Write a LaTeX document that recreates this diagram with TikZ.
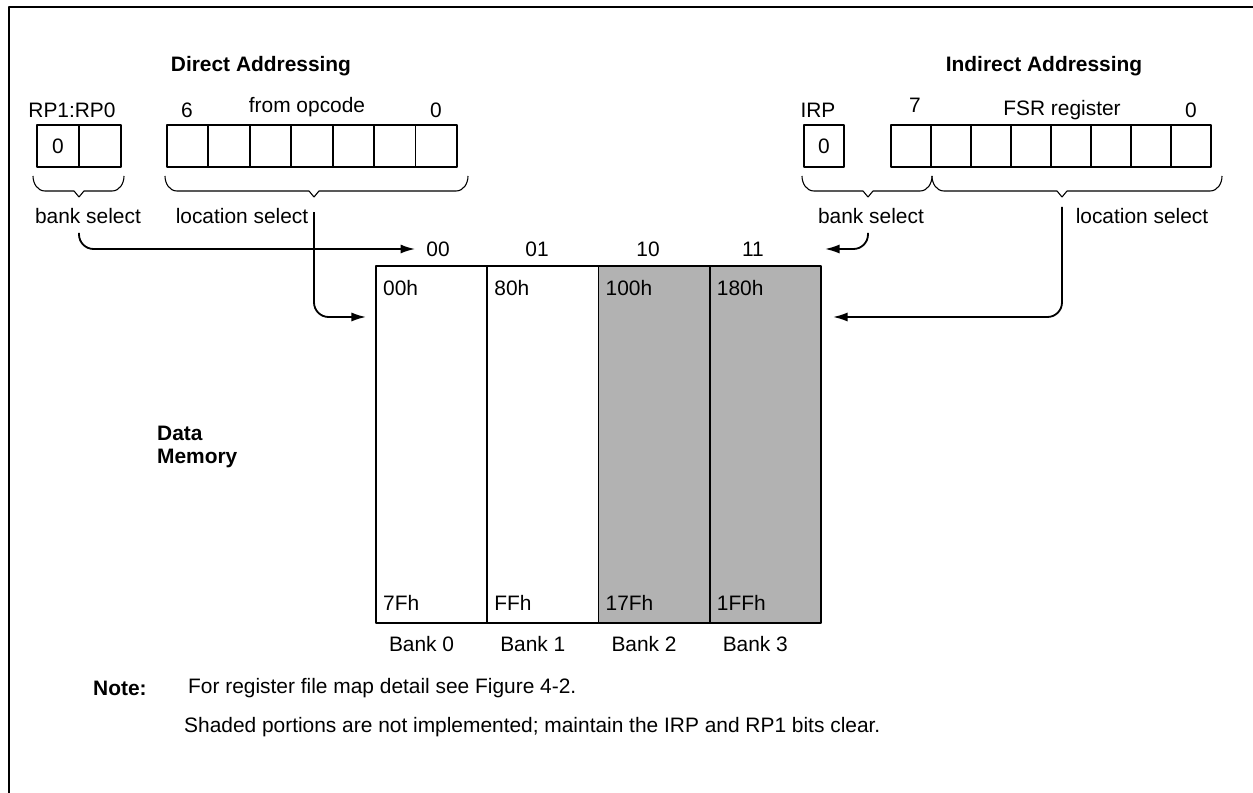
\documentclass[tikz,border=0pt]{standalone}
\usepackage{fontspec}
\setmainfont{Liberation Sans}
\usetikzlibrary{arrows.meta,positioning}

% curly bracket under a register: left x, tip x, right x, tip name
\newcommand\bracedown[4]{%
  \draw[brk] (#1,176) to[out=-90,in=180] ({#1+12},191) -- ({#2-5},191)
    -- (#2,197) -- ({#2+5},191) -- ({#3-12},191) to[out=0,in=-90] (#3,176);
  \coordinate (#4) at (#2,197);}

\begin{document}
\begin{tikzpicture}[>={Latex[length=8pt,width=5pt]},line join=bevel,x=0.55pt,y=-0.55pt,
  font=\fontsize{11.5}{12.5}\selectfont,
  every node/.style={inner sep=1pt},
  ttl/.style={font=\fontsize{11.5}{12.5}\selectfont\bfseries},
  cell/.style={draw,line width=1pt,minimum height=23.1pt,inner sep=0pt,anchor=north west},
  bank/.style={draw,line width=1pt,minimum width=61.2pt,minimum height=196.4pt,inner sep=0pt,anchor=north west},
  shaded/.style={bank,fill=black!30},
  addr/.style={anchor=west},
  link/.style={->,line width=1pt,rounded corners=8pt},
  brk/.style={line width=0.6pt}]

\useasboundingbox (0,0) rectangle (1253,793);

% Frame
\draw[line width=1.2pt] (9,793) -- (9,7) -- (1253,7);

% Titles
\node[ttl] (dirttl) at (261,66) {Direct Addressing};
\node[ttl] (indttl) at (1044,66) {Indirect Addressing};

% Register: RP1:RP0
\node (rplbl) at (72,110) {RP1:RP0};
\node[cell,minimum width=23.1pt] (rp1) at (36,124) {0};
\node[cell,minimum width=23.1pt] (rp0) at (78,124) {};

% Register: from opcode
\node (opsix) at (187,110) {6};
\node (opname) at (307,107) {from opcode};
\node (opzero) at (436,110) {0};
\foreach \i in {0,...,6}
  \node[cell,minimum width=22.8pt] (opc\i) at ({166+41.43*\i},124) {};

% Register: IRP
\node (irplbl) at (818,110) {IRP};
\node[cell,minimum width=22pt] (irp) at (803,124) {0};

% Register: FSR
\node (fsrseven) at (915,105) {7};
\node (fsrname) at (1062,110) {FSR register};
\node (fsrzero) at (1191,110) {0};
\foreach \i in {0,...,7}
  \node[cell,minimum width=22pt] (fsr\i) at ({890+40*\i},124) {};

% Brackets
\bracedown{33}{79}{124}{tipbs}
\bracedown{165}{314}{468}{tipls}
\bracedown{802}{868}{932}{tipbsr}
\bracedown{932}{1062}{1222}{tiplsr}

\node (bsl) at (88,216) {bank select};
\node (lsl) at (242,216) {location select};
\node (bsr) at (871,216) {bank select};
\node (lsr) at (1142,216) {location select};

% Bank numbers
\node (c00) at (438,249) {00};
\node (c01) at (537,249) {01};
\node (c10) at (648,249) {10};
\node (c11) at (753,249) {11};

% Data memory banks
\node[bank] (bank0) at (375,265) {};
\node[bank] (bank1) at (486.25,265) {};
\node[shaded] (bank2) at (597.5,265) {};
\node[shaded] (bank3) at (708.75,265) {};

\node[addr] (a0top) at ([shift={(6,23)}]bank0.north west) {00h};
\node[addr] (a1top) at ([shift={(6,23)}]bank1.north west) {80h};
\node[addr] (a2top) at ([shift={(6,23)}]bank2.north west) {100h};
\node[addr] (a3top) at ([shift={(6,23)}]bank3.north west) {180h};
\node[addr] (a0bot) at ([shift={(6,-21)}]bank0.south west) {7Fh};
\node[addr] (a1bot) at ([shift={(6,-21)}]bank1.south west) {FFh};
\node[addr] (a2bot) at ([shift={(6,-21)}]bank2.south west) {17Fh};
\node[addr] (a3bot) at ([shift={(6,-21)}]bank3.south west) {1FFh};

\node (n0) at ([shift={(-10,20)}]bank0.south) {Bank 0};
\node (n1) at ([shift={(-10,20)}]bank1.south) {Bank 1};
\node (n2) at ([shift={(-10,20)}]bank2.south) {Bank 2};
\node (n3) at ([shift={(-10,20)}]bank3.south) {Bank 3};

\node[ttl,align=left,anchor=west] (dmem) at (155,447) {Data\\Memory};

% Arrow ends
\coordinate (inL) at (366,317);
\coordinate (inR) at (833,317);
\coordinate (inB) at (825,249);

% Edge: bank select -> 00
\draw[link] ([yshift=-19.8pt]tipbs) |- ([xshift=-5pt]c00.west);
% Edge: location select -> bank 0
\draw[link] ([yshift=-8.3pt]tipls) |- (inL);
% Edge: bank select -> 11
\draw[link] ([yshift=-19.8pt]tipbsr) |- (inB);
% Edge: location select -> bank 3
\draw[link] ([yshift=-5.5pt]tiplsr) |- (inR);

% Note
\node[ttl,anchor=west] (note) at (91,688) {Note:};
\node[anchor=west] (notea) at (186,688) {For register file map detail see Figure 4-2.};
\node[anchor=west] (noteb) at (182,727) {Shaded portions are not implemented; maintain the IRP and RP1 bits clear.};

\end{tikzpicture}
\end{document}
